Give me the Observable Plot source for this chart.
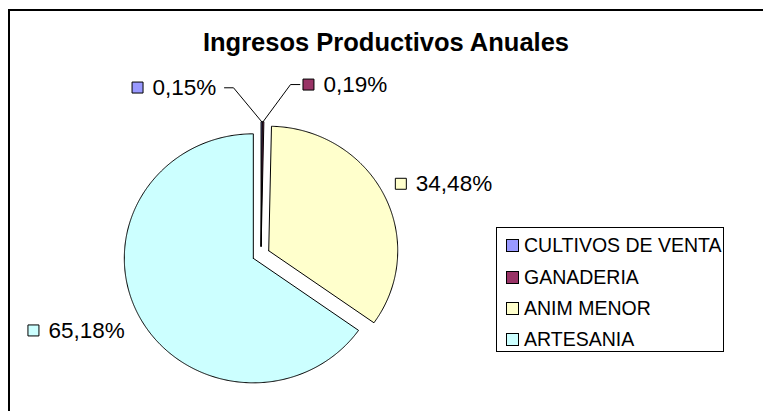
<!DOCTYPE html>
<html>
<head>
<meta charset="utf-8">
<script src="https://cdn.jsdelivr.net/npm/d3@7"></script>
<script src="https://cdn.jsdelivr.net/npm/@observablehq/plot@0.6"></script>
<style>
  html, body { margin: 0; padding: 0; background: #fff; }
  #chart { position: relative; width: 763px; height: 411px; overflow: hidden; background: #fff;
           font-family: "Liberation Sans", Arial, sans-serif; }
  #frame { position: absolute; left: 8px; top: 9px; width: 900px; height: 600px; border: 2px solid #000; }
  #title { position: absolute; left: 0; width: 772px; top: 30px; text-align: center;
           font-weight: bold; font-size: 25.5px; color: #000; line-height: 1; }
  #plot { position: absolute; left: 0; top: 0; }
  #legend { position: absolute; left: 496px; top: 227px; width: 226px; height: 123px;
            border: 1.5px solid #000; background: #fff; box-sizing: content-box; }
  .row { position: absolute; left: 9px; height: 20px; display: flex; align-items: center;
         font-size: 19.5px; color: #000; white-space: nowrap; }
  .sw { width: 11px; height: 11px; border: 1px solid #000; margin-right: 5px; flex: none; }
</style>
</head>
<body>
<div id="chart">
  <div id="frame"></div>
  <div id="plot"></div>
  <div id="title">Ingresos Productivos Anuales</div>
  <div id="legend"></div>
</div>
<script>
// ---- data ----
const categories = ["CULTIVOS DE VENTA", "GANADERIA", "ANIM MENOR", "ARTESANIA"];
const values = [0.15, 0.19, 34.48, 65.18];
const valueLabels = ["0,15%", "0,19%", "34,48%", "65,18%"];
const colors = ["#9999FF", "#993366", "#FFFFCC", "#CCFFFF"];

// ---- layout (unit-circle coordinates, not data) ----
const explode = 0.067;
const labelAnchor = [[-0.957, 1.341], [0.368, 1.365], [1.084, 0.568], [-1.764, -0.610]];
const leaderBends = [
  [[-0.213, 1.339], [-0.283, 1.339]],
  [[0.229, 1.365], [0.301, 1.365]],
  null, null
];
const cx = 260.5, cy = 254, rx = 129, ry = 124.5;

// ---- build slices ----
const total = d3.sum(values);
let acc = 0;
const slices = values.map((v, i) => {
  const a0 = acc / total * 2 * Math.PI;
  acc += v;
  const a1 = acc / total * 2 * Math.PI;
  const mid = (a0 + a1) / 2;
  const ox = explode * Math.sin(mid), oy = explode * Math.cos(mid);
  return {i, cat: categories[i], a0, a1, mid, ox, oy};
});

const slicePts = [];
for (const s of slices) {
  slicePts.push({cat: s.cat, u: s.ox, v: s.oy});
  const n = Math.max(2, Math.ceil((s.a1 - s.a0) / (Math.PI / 360)));
  for (let k = 0; k <= n; k++) {
    const a = s.a0 + (s.a1 - s.a0) * k / n;
    slicePts.push({cat: s.cat, u: s.ox + Math.sin(a), v: s.oy + Math.cos(a)});
  }
  slicePts.push({cat: s.cat, u: s.ox, v: s.oy});
}

const leaderPts = [];
slices.forEach((s, i) => {
  if (!leaderBends[i]) return;
  leaderPts.push({k: i, u: s.ox + Math.sin(s.mid), v: s.oy + Math.cos(s.mid)});
  for (const [u, v] of leaderBends[i]) leaderPts.push({k: i, u, v});
});

const labels = slices.map((s, i) => ({cat: s.cat, text: valueLabels[i], u: labelAnchor[i][0], v: labelAnchor[i][1]}));

const chart = Plot.plot({
  width: 763, height: 411, margin: 0,
  style: {background: "transparent", overflow: "visible"},
  x: {type: "linear", domain: [-1, 1], range: [cx - rx, cx + rx], axis: null},
  y: {type: "linear", domain: [-1, 1], range: [cy + ry, cy - ry], axis: null},
  color: {domain: categories, range: colors},
  marks: [
    Plot.line(slicePts, {x: "u", y: "v", z: "cat", fill: "cat", stroke: "#000", strokeWidth: 1, strokeLinejoin: "miter"}),
    Plot.line(leaderPts, {x: "u", y: "v", z: "k", stroke: "#000", strokeWidth: 1}),
    Plot.dot(labels, {x: "u", y: "v", symbol: "square", r: 6.2, fill: "cat", stroke: "#000", strokeWidth: 1}),
    Plot.text(labels, {x: "u", y: "v", text: "text", textAnchor: "start", dx: 15, fontSize: 22.5,
      fontFamily: "Liberation Sans, Arial, sans-serif", fill: "#000"})
  ]
});
document.getElementById("plot").appendChild(chart);

// ---- legend ----
const legend = document.getElementById("legend");
const rowTops = [7, 39, 70, 101];
categories.forEach((c, i) => {
  const row = document.createElement("div");
  row.className = "row";
  row.style.top = rowTops[i] + "px";
  const sw = document.createElement("span");
  sw.className = "sw";
  sw.style.background = colors[i];
  const t = document.createElement("span");
  t.textContent = c;
  row.appendChild(sw); row.appendChild(t);
  legend.appendChild(row);
});
</script>
</body>
</html>
